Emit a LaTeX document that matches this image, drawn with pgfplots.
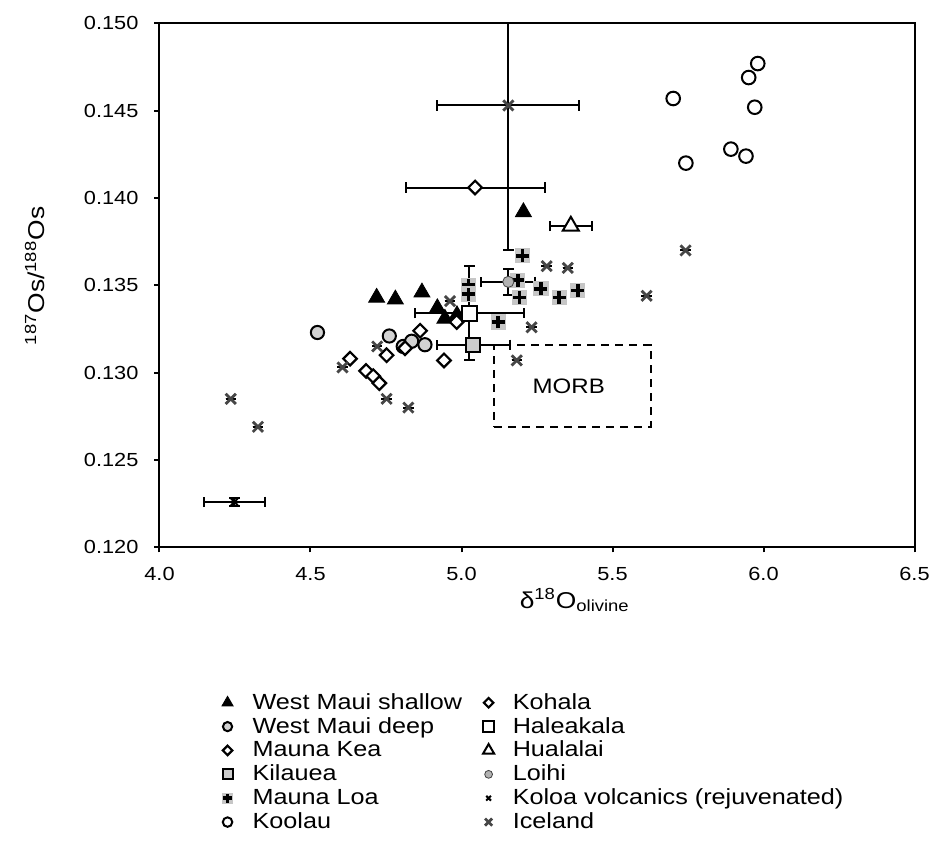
\documentclass[border=0pt]{standalone}
\usepackage{pgfplots}
\pgfplotsset{compat=1.18}
\usepackage{fontspec}
\setmainfont{Liberation Sans}[FakeStretch=1.15]
\setsansfont{Liberation Sans}[FakeStretch=1.15]
\pgfdeclareplotmark{mlplus}{%
  \pgfpathrectangle{\pgfqpoint{-\pgfplotmarksize}{-\pgfplotmarksize}}{\pgfqpoint{2\pgfplotmarksize}{2\pgfplotmarksize}}%
  \pgfsetfillcolor{gray!45}\pgfusepath{fill}%
  \pgfpathmoveto{\pgfqpoint{-0.85\pgfplotmarksize}{0pt}}\pgfpathlineto{\pgfqpoint{0.85\pgfplotmarksize}{0pt}}%
  \pgfpathmoveto{\pgfqpoint{0pt}{-0.85\pgfplotmarksize}}\pgfpathlineto{\pgfqpoint{0pt}{0.85\pgfplotmarksize}}%
  \pgfusepath{stroke}}
\begin{document}
\begin{tikzpicture}
\path[use as bounding box] (-79.75bp,-150.85bp) rectangle (390.75bp,273.65bp);
\begin{axis}[
  at={(0,0)}, anchor=south west,
  scale only axis, width=377.5bp, height=261.95bp,
  xmin=4, xmax=6.5, ymin=0.120, ymax=0.150,
  xtick={4,4.5,5,5.5,6,6.5},
  ytick={0.120,0.125,0.130,0.135,0.140,0.145,0.150},
  scaled y ticks=false, scaled x ticks=false,
  xtick pos=bottom, ytick pos=left, tick align=outside,
  major tick length=2.5bp,
  axis line style={line width=1bp},
  every tick/.style={black, line width=1bp},
  /pgf/number format/assume math mode=true,
  tick label style={font=\fontsize{9.5}{11}\selectfont},
  x tick label style={yshift=-4bp, /pgf/number format/.cd, fixed, fixed zerofill, precision=1},
  y tick label style={xshift=-4.5bp, /pgf/number format/.cd, fixed, fixed zerofill, precision=3},
  label style={font=\fontsize{11.5}{13}\selectfont},
  xlabel={δ\textsuperscript{18}O\textsubscript{olivine}},
  xlabel style={at={(axis description cs:0.55,-0.101)}, anchor=center},
  ylabel={\textsuperscript{187}Os/\textsuperscript{188}Os},
  ylabel style={at={(axis description cs:-0.165,0.518)}, anchor=center},
  legend image code/.code={\draw[mark repeat=2,mark phase=2,#1,/tikz/every mark/.append style={scale=0.7}] plot coordinates {(0bp,0bp)(5.67bp,0bp)(11.34bp,0bp)};},
  transpose legend, legend columns=6,
  legend cell align=left,
  legend style={at={(axis description cs:0.0811,-0.276)}, anchor=north west, draw=none, inner sep=0pt,
    font=\fontsize{11}{13}\selectfont, row sep=1.5bp,
    nodes={inner xsep=0pt, inner ysep=0.5bp},
    /tikz/column 1/.style={column sep=9.3bp},
    /tikz/column 2/.style={column sep=10.4bp},
    /tikz/column 3/.style={column sep=9.3bp}},
  error bars/error bar style={black, line width=1bp},
  error bars/error mark options={rotate=90, black, mark size=2.6bp, line width=1bp},
]
% MORB field
\addplot[black, line width=1bp, dash pattern=on 4bp off 3bp, forget plot]
  coordinates {(5.109,0.1269) (5.626,0.1269) (5.626,0.1316) (5.109,0.1316) (5.109,0.1269)};
\node[font=\fontsize{10.5}{12}\selectfont] at (axis cs:5.355,0.1292) {MORB};

% West Maui shallow
\addplot[only marks, mark=triangle*, mark size=4.6bp, black, mark options={fill=black}]
  coordinates {(4.719,0.1343) (4.781,0.1342) (4.869,0.1346) (4.920,0.1337) (4.945,0.1331) (4.985,0.1333) (5.205,0.1392)};
\addlegendentry{West Maui shallow}
% West Maui deep
\addplot[only marks, mark=*, mark size=3.3bp, black, mark options={fill=gray!35, line width=1bp}]
  coordinates {(4.523,0.1323) (4.761,0.1321) (4.807,0.1315) (4.835,0.1318) (4.879,0.1316)};
\addlegendentry{West Maui deep}
% Mauna Kea
\addplot[only marks, mark=square*, mark size=2.4bp, black, mark options={rotate=45, fill=white, line width=1.1bp}]
  coordinates {(4.631,0.1308) (4.684,0.1301) (4.708,0.1298) (4.728,0.1294) (4.752,0.1310) (4.813,0.1314) (4.863,0.1324) (4.942,0.1307) (4.984,0.1329)};
\addlegendentry{Mauna Kea}
% Kilauea
\addplot[only marks, mark=square*, mark size=3.6bp, black, mark options={fill=gray!40, line width=1bp},
  error bars/.cd, x dir=both, x explicit]
  coordinates {(5.039,0.1316) +- (0.12,0)};
\addlegendentry{Kilauea}
% Mauna Loa
\addplot[only marks, mark=mlplus, mark size=3.8bp, black, mark options={line width=1.9bp}]
  coordinates {(5.202,0.1367) (5.186,0.1353) (5.192,0.1343) (5.263,0.1348) (5.324,0.1343) (5.385,0.1347) (5.122,0.1329) (5.023,0.1350) (5.023,0.1345)};
\addlegendentry{Mauna Loa}
% Koolau
\addplot[only marks, mark=*, mark size=3.4bp, black, mark options={fill=white, line width=1bp}]
  coordinates {(5.981,0.1477) (5.951,0.1469) (5.701,0.1457) (5.971,0.1452) (5.892,0.1428) (5.942,0.1424) (5.743,0.1420)};
\addlegendentry{Koolau}
% Kohala
\addplot[only marks, mark=square*, mark size=2.4bp, black, mark options={rotate=45, fill=white, line width=1.1bp},
  error bars/.cd, x dir=both, x explicit]
  coordinates {(5.045,0.1406) +- (0.23,0)};
\addlegendentry{Kohala}
% Haleakala
\addplot[only marks, mark=square*, mark size=3.7bp, black, mark options={fill=white, line width=1bp},
  error bars/.cd, x dir=both, x explicit, y dir=both, y explicit]
  coordinates {(5.026,0.1334) +- (0.18,0.0027)};
\addlegendentry{Haleakala}
% Hualalai
\addplot[only marks, mark=triangle*, mark size=4.6bp, black, mark options={fill=white, line width=1bp},
  error bars/.cd, x dir=both, x explicit]
  coordinates {(5.362,0.1384) +- (0.07,0)};
\addlegendentry{Hualalai}
% Loihi
\addplot[only marks, mark=*, mark size=2.8bp, gray!50!black, mark options={fill=gray!60},
  error bars/.cd, x dir=both, x explicit, y dir=both, y explicit]
  coordinates {(5.155,0.1352) +- (0.09,0.00075)};
\addlegendentry{Loihi}
% Koloa volcanics
\addplot[only marks, mark=x, mark size=2.4bp, black, mark options={line width=1bp},
  error bars/.cd, x dir=both, x explicit, y dir=both, y explicit]
  coordinates {(4.248,0.1226) +- (0.10,0.00025)};
\addlegendentry{Koloa volcanics (rejuvenated)}
% Iceland
\addplot[only marks, mark=x, mark size=3.6bp, gray!55!black, mark options={line width=1.4bp},
  error bars/.cd, x dir=both, x explicit, y dir=both, y explicit]
  coordinates {(5.155,0.1453) +- (0.235,0.0083)
  (4.962,0.1341) +- (0,0) (4.721,0.1315) +- (0,0) (4.606,0.1303) +- (0,0) (4.752,0.1285) +- (0,0)
  (4.824,0.1280) +- (0,0) (5.232,0.1326) +- (0,0) (5.183,0.1307) +- (0,0) (5.282,0.1361) +- (0,0)
  (5.352,0.1360) +- (0,0) (5.742,0.1370) +- (0,0) (5.613,0.1344) +- (0,0) (4.236,0.1285) +- (0,0)
  (4.326,0.1269) +- (0,0)};
\addlegendentry{Iceland}
\end{axis}
\end{tikzpicture}
\end{document}
